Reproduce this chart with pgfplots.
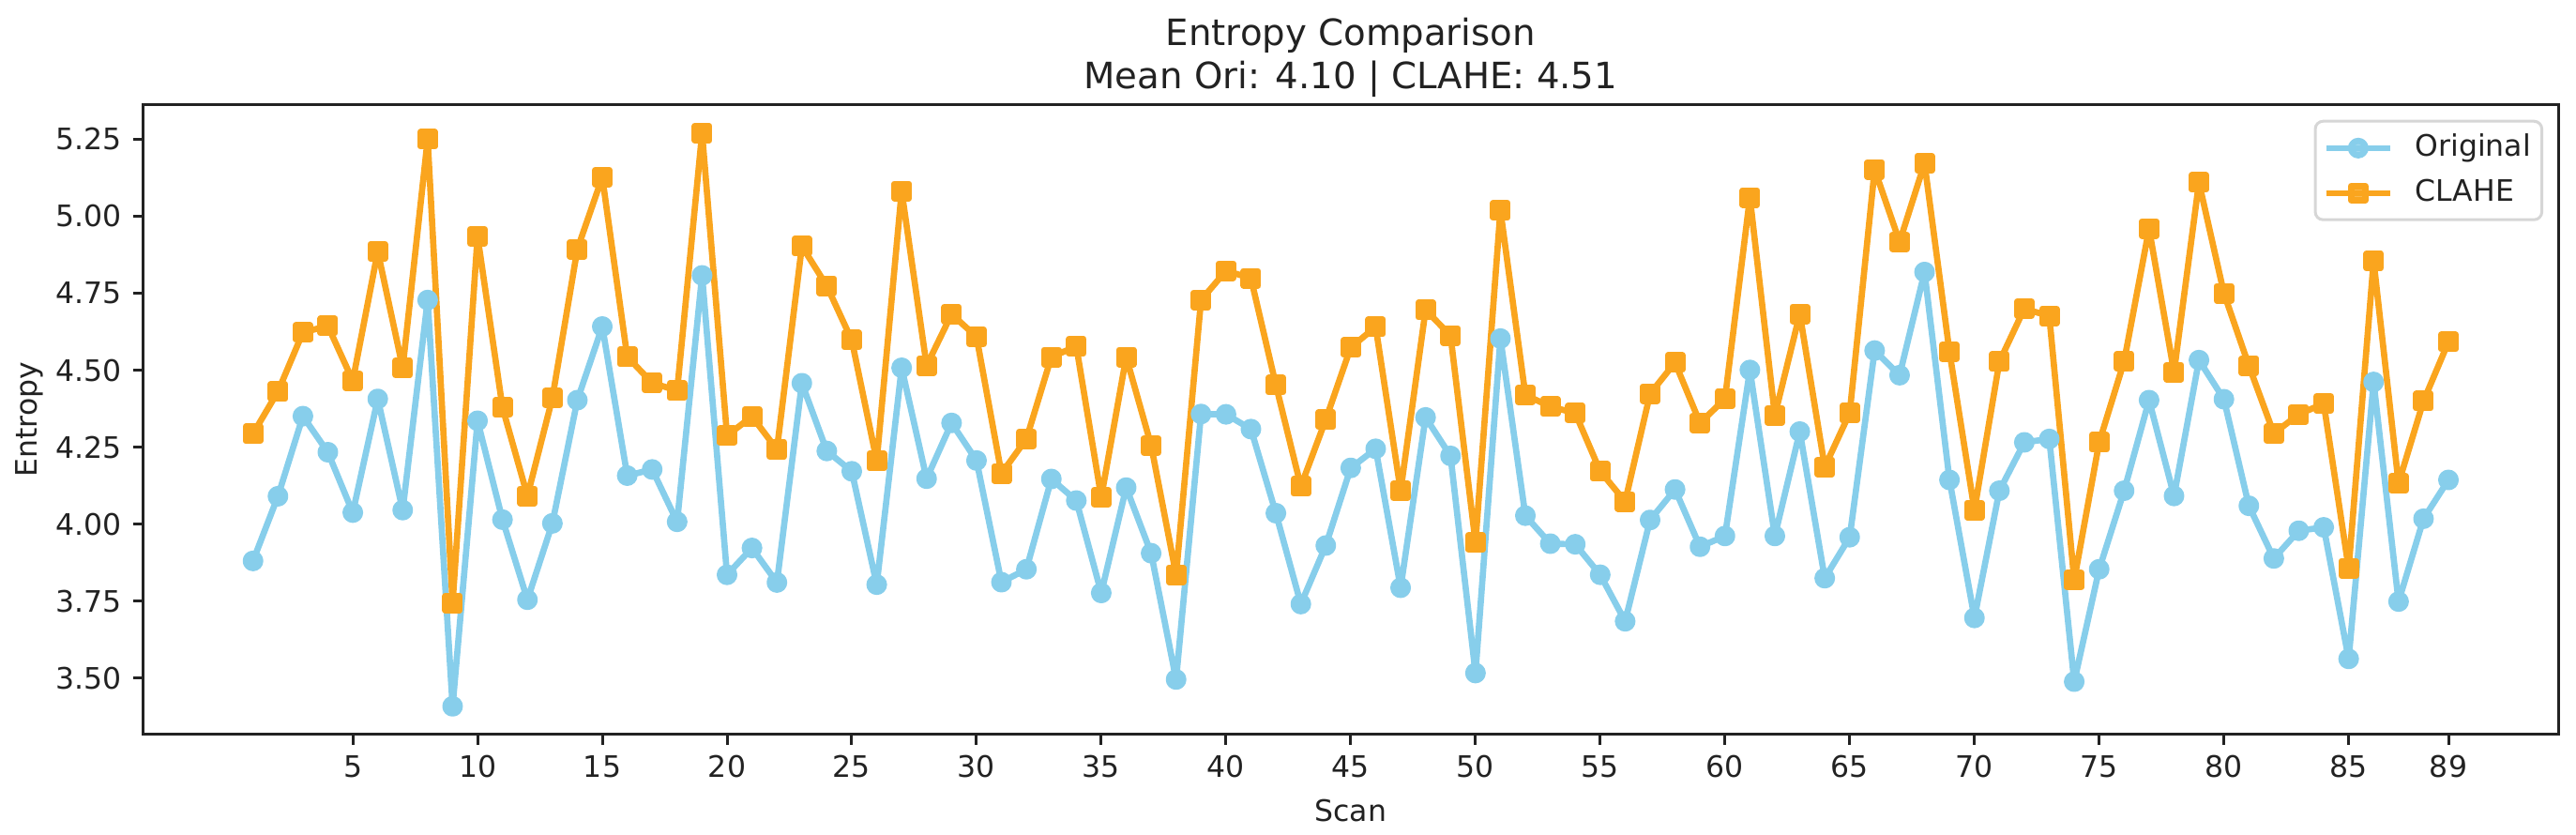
\documentclass[border=0pt]{standalone}
\usepackage{fontspec}
\setmainfont{DejaVu Sans}
\usepackage{pgfplots}
\usepackage{pgfplotstable}
\pgfplotsset{compat=1.18}
\definecolor{origblue}{RGB}{135,206,235}
\definecolor{claheorange}{RGB}{250,165,30}
\definecolor{axisblack}{RGB}{34,34,34}

% scan, original entropy, CLAHE entropy
\pgfplotstableread{
scan orig clahe
1 3.881 4.294
2 4.091 4.431
3 4.351 4.623
4 4.234 4.644
5 4.038 4.466
6 4.407 4.886
7 4.046 4.508
8 4.728 5.250
9 3.409 3.744
10 4.336 4.935
11 4.015 4.379
12 3.755 4.092
13 4.003 4.410
14 4.403 4.893
15 4.642 5.127
16 4.158 4.544
17 4.178 4.459
18 4.008 4.434
19 4.808 5.270
20 3.836 4.288
21 3.923 4.350
22 3.811 4.243
23 4.458 4.903
24 4.238 4.774
25 4.172 4.598
26 3.804 4.206
27 4.508 5.082
28 4.148 4.515
29 4.329 4.682
30 4.207 4.609
31 3.812 4.165
32 3.854 4.277
33 4.147 4.543
34 4.077 4.578
35 3.777 4.088
36 4.119 4.543
37 3.906 4.256
38 3.496 3.836
39 4.358 4.728
40 4.357 4.823
41 4.309 4.799
42 4.036 4.452
43 3.741 4.123
44 3.931 4.340
45 4.183 4.574
46 4.245 4.641
47 3.794 4.109
48 4.347 4.696
49 4.222 4.613
50 3.517 3.941
51 4.603 5.019
52 4.028 4.420
53 3.937 4.382
54 3.935 4.361
55 3.836 4.172
56 3.685 4.074
57 4.014 4.424
58 4.113 4.525
59 3.927 4.329
60 3.962 4.407
61 4.501 5.061
62 3.962 4.354
63 4.301 4.683
64 3.825 4.186
65 3.958 4.361
66 4.564 5.152
67 4.484 4.917
68 4.819 5.172
69 4.144 4.560
70 3.696 4.046
71 4.109 4.528
72 4.266 4.700
73 4.277 4.676
74 3.489 3.819
75 3.854 4.266
76 4.109 4.529
77 4.403 4.960
78 4.092 4.494
79 4.533 5.110
80 4.406 4.750
81 4.060 4.515
82 3.889 4.295
83 3.979 4.357
84 3.990 4.392
85 3.563 3.857
86 4.462 4.855
87 3.749 4.133
88 4.018 4.400
89 4.144 4.592
}\entropytable

\begin{document}
\begin{tikzpicture}
\path[use as bounding box] (-45.81pt,-32.19pt) rectangle (778pt,234.81pt);
\begin{axis}[
    at={(0,0)}, anchor=south west,
    scale only axis,
    width=772.3pt, height=201.3pt,
    xmin=-3.4, xmax=93.4,
    ymin=3.318, ymax=5.362,
    xtick={5,10,15,20,25,30,35,40,45,50,55,60,65,70,75,80,85,89},
    ytick={3.5,3.75,4,4.25,4.5,4.75,5,5.25},
    yticklabel style={/pgf/number format/fixed,
        /pgf/number format/fixed zerofill,
        /pgf/number format/precision=2},
    /pgf/number format/assume math mode=true,
    tick label style={font=\fontsize{9.45}{11}\selectfont, text=axisblack},
    label style={font=\fontsize{9.45}{11}\selectfont, text=axisblack},
    xtick pos=left, ytick pos=left,
    tick align=outside,
    major tick length=3.3pt,
    every tick/.style={axisblack, line width=0.9pt},
    axis line style={axisblack, line width=0.9pt},
    xlabel={Scan},
    ylabel={Entropy},
    ylabel style={inner sep=0.5pt},
    every axis title/.style={at={(0.5,1)}, anchor=south, yshift=2.3pt,
        inner sep=0pt, align=center, text=axisblack,
        font=\fontsize{11.6}{13.8}\selectfont},
    title={Entropy Comparison\\Mean Ori: 4.10 | CLAHE: 4.51},
    legend style={at={(0.9938,0.9761)}, anchor=north east,
        draw=black!16, line width=0.9pt, rounded corners=2.5pt,
        fill=white, fill opacity=0.8, text opacity=1,
        inner xsep=2.5pt, inner ysep=3pt, row sep=3.3pt,
        nodes={inner sep=1pt, text depth=0.2em},
        /tikz/every odd column/.append style={column sep=6pt},
        font=\fontsize{9.45}{11}\selectfont, text=axisblack},
    legend cell align=left,
    legend image code/.code={
        \draw[mark repeat=2,mark phase=2] plot coordinates {(0cm,0cm) (0.36cm,0cm) (0.72cm,0cm)};
    },
]
\addplot[origblue, line width=2pt, line join=round, mark=*, mark size=2.3pt,
    mark options={solid, fill=origblue}] table[x=scan, y=orig] {\entropytable};
\addlegendentry{Original}
\addplot[claheorange, line width=2pt, line join=round, mark=square*, mark size=2.3pt,
    mark options={solid, fill=claheorange}] table[x=scan, y=clahe] {\entropytable};
\addlegendentry{CLAHE}
\end{axis}
\end{tikzpicture}
\end{document}
